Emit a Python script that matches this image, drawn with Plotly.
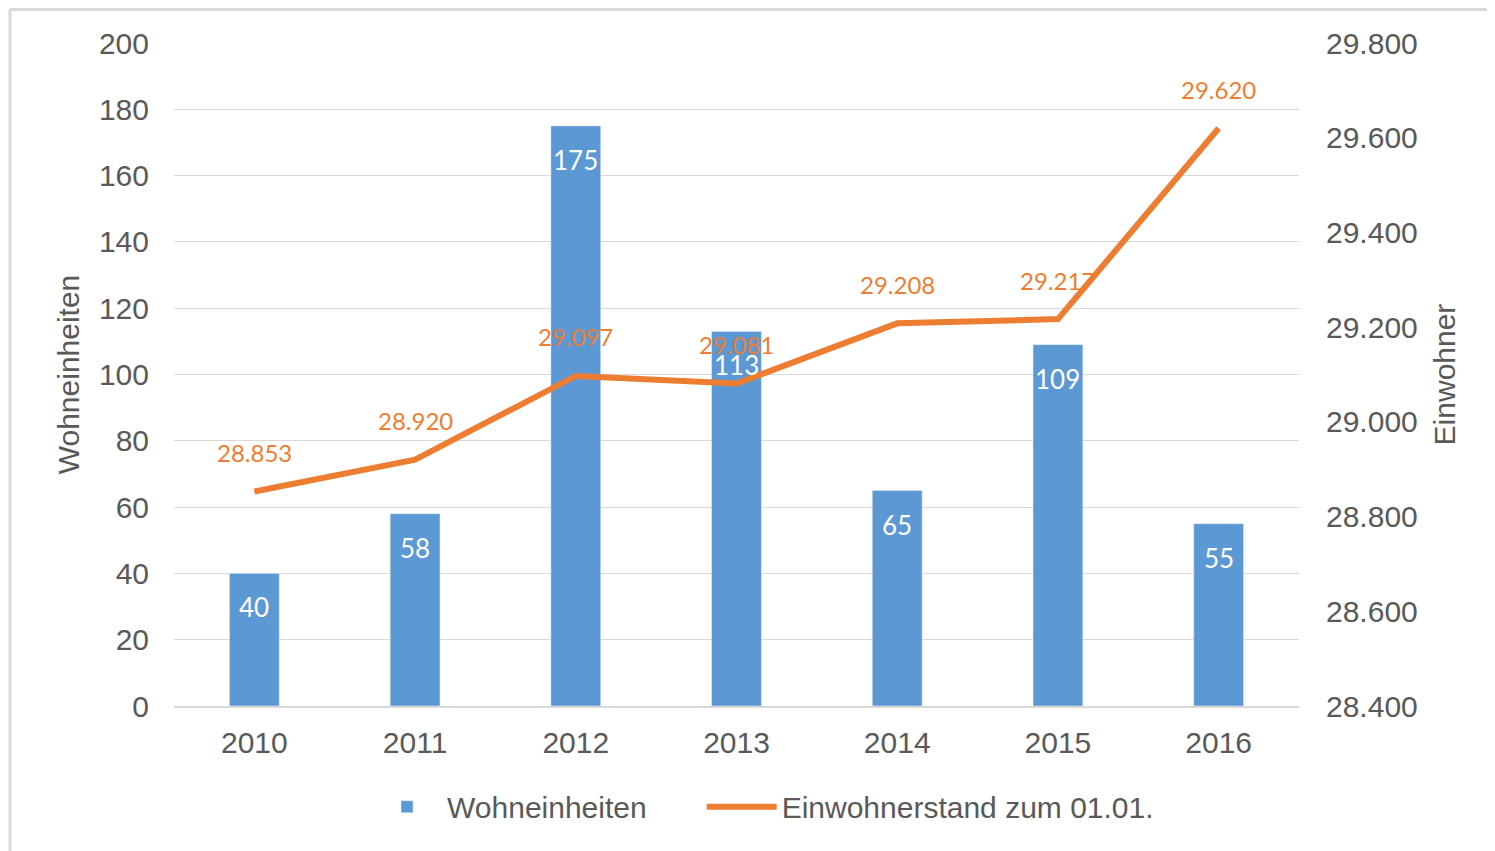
import plotly.graph_objects as go

jahre = ['2010', '2011', '2012', '2013', '2014', '2015', '2016']
wohneinheiten = [40, 58, 175, 113, 65, 109, 55]
einwohner = [28853, 28920, 29097, 29081, 29208, 29217, 29620]

blau = '#5B98D4'
orange = '#ED7D31'
grau = '#595959'


def de(v):
    # deutsche Tausenderpunkte
    return f'{v:,}'.replace(',', '.')


fig = go.Figure()

# geschuetzte Leerzeichen fuer den Abstand in der Legende
fig.add_trace(go.Bar(x=jahre, y=wohneinheiten, name='Wohneinheiten' + '\u00a0' * 6,
                     marker=dict(color=blau), width=0.31))

fig.add_trace(go.Scatter(x=jahre, y=einwohner, name='Einwohnerstand zum 01.01.',
                         mode='lines', yaxis='y2',
                         line=dict(color=orange, width=6)))

# bei Kategorie-Achse: Position der Beschriftung ueber den Index
annos = []
for i, w in enumerate(wohneinheiten):
    annos.append(dict(x=i, y=w, xref='x', yref='y', text=str(w), showarrow=False,
                      yshift=-34, font=dict(family='Lato', size=26, color='white')))
for i, e in enumerate(einwohner):
    annos.append(dict(x=i, y=e, xref='x', yref='y2', text=de(e), showarrow=False,
                      yshift=39, font=dict(family='Lato', size=24, color=orange)))

# die Seite hat 8px Rand, deshalb etwas kleiner
fig.update_layout(
    width=1487, height=843,
    paper_bgcolor='white', plot_bgcolor='white',
    margin=dict(l=166, r=196, t=35, b=145),
    font=dict(family='Liberation Sans', size=30, color=grau),
    separators=',.',
    showlegend=True,
    legend=dict(orientation='h', x=0.1716, xanchor='left', y=-0.152, yanchor='middle',
                itemwidth=70, font=dict(size=30, color=grau)),
    xaxis=dict(type='category', range=[-0.5, 6.5], showgrid=False, showline=True,
               linecolor='#d9d9d9', linewidth=2, ticks='', ticklabelstandoff=9,
               tickfont=dict(size=30, color=grau)),
    yaxis=dict(range=[0, 200], dtick=20, showgrid=True, gridcolor='#d9d9d9', gridwidth=1,
               zeroline=False, showline=False, ticks='', ticklabelstandoff=24,
               title=dict(text='Wohneinheiten', font=dict(size=30, color=grau), standoff=10)),
    yaxis2=dict(range=[28400, 29800], dtick=200, overlaying='y', side='right',
                showgrid=False, zeroline=False, tickformat=',d', ticks='', ticklabelstandoff=26,
                title=dict(text='Einwohner', font=dict(size=30, color=grau), standoff=17)),
    annotations=annos,
    shapes=[
        dict(type='line', xref='paper', yref='paper', x0=-0.1458, x1=1.3, y0=1.0505, y1=1.0505,
             line=dict(color='#d9d9d9', width=3)),
        dict(type='line', xref='paper', yref='paper', x0=-0.1458, x1=-0.1458, y0=-0.3, y1=1.0505,
             line=dict(color='#d9d9d9', width=3)),
    ],
)

fig.write_html('out.html')
